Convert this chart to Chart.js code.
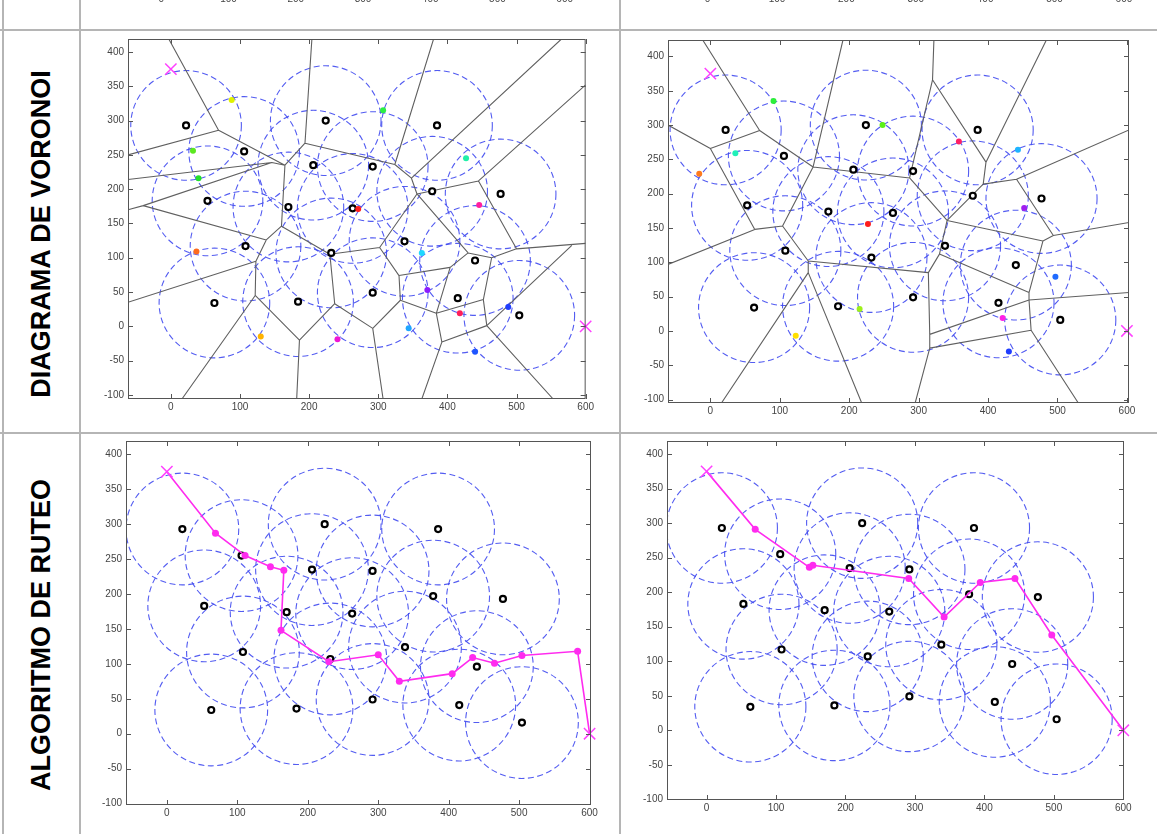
<!DOCTYPE html>
<html>
<head>
<meta charset="utf-8">
<script src="https://cdn.jsdelivr.net/npm/chart.js@4.4.1/dist/chart.umd.min.js"></script>
<style>
html, body { margin: 0; padding: 0; background: #fff; }
#page { position: relative; width: 1157px; height: 834px; overflow: hidden; background: #fff; }
.rule { position: absolute; background: #b5b5b5; }
.rowlabel {
    position: absolute; white-space: nowrap; color: #000;
    font: bold 27px "Liberation Sans", Arial, sans-serif;
    transform: translate(-50%, -50%) rotate(-90deg);
}
</style>
</head>
<body>
<div id="page">
    <div class="rule" style="left:0;top:29px;width:1157px;height:2px"></div>
    <div class="rule" style="left:0;top:432px;width:1157px;height:2px"></div>
    <div class="rule" style="left:2px;top:0;width:2px;height:834px"></div>
    <div class="rule" style="left:79px;top:0;width:2px;height:834px"></div>
    <div class="rule" style="left:619px;top:0;width:2px;height:834px"></div>
    <div class="rowlabel" style="left:41px;top:234px">DIAGRAMA DE VORONOI</div>
    <div class="rowlabel" style="left:41px;top:635px">ALGORITMO DE RUTEO</div>
</div>
<script>
// sensor nodes (black rings) - same in all four plots
const nodeX = [22, 106, 53, 108, 63, 170, 206, 224, 232, 184, 292, 263, 292, 338, 385, 378, 415, 440, 477, 504];
const nodeY = [293, 255, 183, 117, 34, 174, 235, 300, 107, 36, 233, 172, 49, 124, 293, 197, 41, 96, 193, 16];
const coverRadius = 80;

const xTickVals = [0, 100, 200, 300, 400, 500, 600];
const yTickVals = [-100, -50, 0, 50, 100, 150, 200, 250, 300, 350, 400];

const startPt = [0, 375];
const endPt = [600, 0];

// voronoi, left plot
const siteAX = [88, 32, 40, 37, 130, 241, 271, 307, 427, 446, 363, 371, 418, 488, 344, 440];
const siteAY = [330, 256, 216, 109, -15, -19, 171, 315, 245, 177, 107, 53, 19, 28, -3, -37];
const siteAColor = ['#dff200', '#5be81f', '#22e02a', '#ff6b1c', '#ffb300', '#ee16d4', '#ff1c1c', '#2bef44',
    '#1ff0a8', '#ff1fa0', '#1fd8ff', '#8c1cff', '#ff1f5a', '#1f3dff', '#1fa6ff', '#1f55ff'];
const vorAVerts = {
    A: [69, 286], B: [165, 235], C: [146, 239], D: [-40, 176], E: [138, 126], F: [160, 146], G: [194, 267],
    H: [123, 95], I: [122, 45], J: [186, -20], K: [237, 33], L: [230, 105], M: [324, 236], O: [348, 216],
    N: [356, 193], P: [445, 212], Q: [302, 115], R: [330, 74], S: [404, 86], T: [430, 107], U: [464, 100],
    V: [500, 113], W: [452, 39], X1: [457, 1], Y: [384, 19], AA: [332, 38], AB: [292, -3], AC: [392, -23],
    AD: [580, 118]
};
const vorAEdges = [
    [[-3, 419], 'A'], [[-62, 250], 'A'], ['A', 'B'], [[-62, 214], 'C'], ['C', 'D'], ['C', 'B'], [[-62, 170], 'D'],
    ['D', 'E'], ['E', 'F'], ['E', 'H'], ['H', [-62, 35]], ['H', 'I'], ['I', [16, -106]], ['I', 'J'],
    ['J', [182, -106]], ['J', 'K'], ['K', 'L'], ['F', 'L'], ['B', 'F'], ['B', 'G'], ['G', [204, 419]], ['G', 'M'],
    ['M', [380, 419]], ['M', 'O'], ['O', [565, 419]], ['O', 'N'], ['N', 'P'], ['P', [600, 352]], ['P', 'V'],
    ['N', 'Q'], ['N', 'T'], ['L', 'Q'], ['Q', 'R'], ['R', 'S'], ['S', 'T'], ['T', 'U'], ['U', 'V'],
    ['V', [600, 121]], ['U', 'W'], ['W', 'X1'], ['W', 'Y'], ['Y', 'S'], ['Y', 'AA'], ['AA', 'R'], ['AA', 'AB'],
    ['AB', 'K'], ['AB', [307, -106]], ['Y', 'AC'], ['AC', 'X1'], ['AC', [363, -106]], ['X1', [553, -106]],
    ['X1', 'AD']
];

// voronoi, right plot
const siteBX = [91, 36, -16, 248, 227, 358, 443, 452, 123, 215, 497, 421, 430];
const siteBY = [335, 259, 229, 300, 156, 276, 264, 179, -7, 32, 79, 19, -30];
const siteBColor = ['#2bef3a', '#1ff0b8', '#ff7a1c', '#5cf01a', '#ff1c1c', '#ff1f66', '#1fb4ff', '#a01ff0',
    '#ffe000', '#9ef01a', '#1f6bff', '#ff1fe6', '#1f3dff'];
const vorBVerts = {
    a: [71, 292], b: [0, 266], c: [64, 148], d: [104, 153], e: [148, 239], f: [287, 223], g: [320, 366],
    h: [397, 246], i: [393, 214], j: [441, 221], k: [494, 139], l: [341, 161], u1: [330, 112], u2: [314, 85],
    u3: [316, -5], u4: [316, -25], u5: [459, 56], u6: [459, 45], u7: [462, 1], u8: [479, 131],
    v1: [141, 102], v2: [141, 85]
};
const vorBEdges = [
    [[-11, 424], 'a'], ['a', 'b'], ['b', [-61, 300]], ['b', 'c'], ['c', 'd'], ['c', [-61, 97]], ['a', 'e'],
    ['e', 'd'], ['e', [191, 424]], ['e', 'f'], ['f', 'g'], ['g', [322, 424]], ['g', 'h'], ['h', [484, 424]],
    ['h', 'i'], ['i', 'j'], ['j', [603, 293]], ['j', 'k'], ['k', [603, 158]], ['k', 'u8'], ['u8', 'l'],
    ['i', 'l'], ['f', 'l'], ['l', 'u1'], ['u1', 'u5'], ['u8', 'u5'], ['u1', 'u2'], ['u2', 'v1'], ['d', 'v1'],
    ['v1', 'v2'], ['v2', [16, -105]], ['v2', [218, -105]], ['u2', 'u3'], ['u3', 'u6'], ['u5', 'u6'],
    ['u6', [603, 56]], ['u6', 'u7'], ['u3', 'u4'], ['u4', 'u7'], ['u4', [295, -105]], ['u7', [530, -105]]
];

// routes found by the algorithm
const routeCX = [0, 69, 111, 147, 166, 162, 230, 300, 330, 405, 434, 465, 504, 583, 600];
const routeCY = [375, 287, 255, 239, 234, 148, 103, 113, 75, 86, 109, 101, 112, 118, 0];
const routeDX = [0, 70, 148, 153, 291, 342, 394, 444, 497, 600];
const routeDY = [375, 291, 236, 239, 220, 164, 214, 220, 138, 0];

Chart.defaults.font.family = '"Liberation Sans", Arial, sans-serif';
Chart.defaults.font.size = 10;
Chart.defaults.color = '#444';
Chart.defaults.animation = false;

const Y_AXIS_W = 44, X_AXIS_H = 22, PAD_T = 8, PAD_R = 10, TICK = 5;
const MAGENTA = '#ff2bef';

const toPts = (xs, ys) => xs.map((v, i) => ({ x: v, y: ys[i] }));

function sketchPlugin(cfg) {
    return {
        id: 'sketch',
        beforeDatasetsDraw(chart) {
            const { ctx, chartArea: a, scales: { x, y } } = chart;
            ctx.save();
            ctx.beginPath();
            ctx.rect(a.left, a.top, a.right - a.left, a.bottom - a.top);
            ctx.clip();
            if (cfg.circles) {
                ctx.setLineDash([6, 3.5]);
                ctx.strokeStyle = 'rgba(64, 74, 240, 0.9)';
                ctx.lineWidth = 1.1;
                nodeX.forEach((nx, i) => {
                    const cx = x.getPixelForValue(nx), cy = y.getPixelForValue(nodeY[i]);
                    const rx = Math.abs(x.getPixelForValue(nx + coverRadius) - cx);
                    const ry = Math.abs(y.getPixelForValue(nodeY[i] + coverRadius) - cy);
                    ctx.beginPath();
                    ctx.ellipse(cx, cy, rx, ry, 0, 0, Math.PI * 2);
                    ctx.stroke();
                });
            }
            if (cfg.edges) {
                const pt = p => typeof p === 'string' ? cfg.verts[p] : p;
                ctx.setLineDash([]);
                ctx.strokeStyle = '#606060';
                ctx.lineWidth = 1.1;
                ctx.beginPath();
                cfg.edges.forEach(([p, q]) => {
                    const a1 = pt(p), b1 = pt(q);
                    ctx.moveTo(x.getPixelForValue(a1[0]), y.getPixelForValue(a1[1]));
                    ctx.lineTo(x.getPixelForValue(b1[0]), y.getPixelForValue(b1[1]));
                });
                ctx.stroke();
            }
            ctx.restore();
        },
        afterDraw(chart) {
            if (cfg.strip) return;
            const { ctx, chartArea: a, scales: { x, y } } = chart;
            ctx.save();
            ctx.strokeStyle = '#555';
            ctx.lineWidth = 1;
            ctx.strokeRect(a.left + 0.5, a.top + 0.5, a.right - a.left - 1, a.bottom - a.top - 1);
            ctx.beginPath();
            xTickVals.forEach(v => {
                const px = Math.round(x.getPixelForValue(v)) + 0.5;
                ctx.moveTo(px, a.bottom); ctx.lineTo(px, a.bottom - TICK);
                ctx.moveTo(px, a.top); ctx.lineTo(px, a.top + TICK);
            });
            yTickVals.forEach(v => {
                const py = Math.round(y.getPixelForValue(v)) + 0.5;
                ctx.moveTo(a.left, py); ctx.lineTo(a.left + TICK, py);
                ctx.moveTo(a.right, py); ctx.lineTo(a.right - TICK, py);
            });
            ctx.stroke();
            ctx.restore();
        }
    };
}

function makePanel(area, xr, yr, datasets, cfg) {
    const w = (area.r - area.l) + Y_AXIS_W + PAD_R;
    const h = (area.b - area.t) + PAD_T + X_AXIS_H;
    const cv = document.createElement('canvas');
    cv.width = w;
    cv.height = h;
    cv.style.cssText = `position:absolute;left:${area.l - Y_AXIS_W}px;top:${area.t - PAD_T}px;width:${w}px;height:${h}px;`;
    document.getElementById('page').appendChild(cv);
    return new Chart(cv, {
        type: 'scatter',
        data: { datasets },
        options: {
            responsive: false,
            layout: { padding: { top: PAD_T, right: PAD_R, left: 0, bottom: 0 } },
            scales: {
                x: {
                    type: 'linear', min: xr[0], max: xr[1],
                    afterBuildTicks: s => { s.ticks = xTickVals.map(v => ({ value: v })); },
                    afterFit: s => { s.height = X_AXIS_H; },
                    grid: { display: false, drawTicks: false },
                    border: { display: false },
                    ticks: { padding: 2, autoSkip: false, maxRotation: 0 }
                },
                y: {
                    type: 'linear', min: yr[0], max: yr[1],
                    afterBuildTicks: s => { s.ticks = yTickVals.map(v => ({ value: v })); },
                    afterFit: s => { s.width = Y_AXIS_W; },
                    grid: { display: false, drawTicks: false },
                    border: { display: false },
                    ticks: { padding: 4, autoSkip: false, display: !cfg.strip }
                }
            },
            plugins: { legend: { display: false }, tooltip: { enabled: false } }
        },
        plugins: [sketchPlugin(cfg)]
    });
}

function endsSet() {
    return {
        data: toPts([startPt[0], endPt[0]], [startPt[1], endPt[1]]),
        pointStyle: 'crossRot', pointRadius: 8, pointBorderWidth: 1.5,
        pointBorderColor: '#ff40ff', clip: false
    };
}
function nodeSet() {
    return {
        data: toPts(nodeX, nodeY),
        pointRadius: 3, pointBorderWidth: 2.2, pointBorderColor: '#000', pointBackgroundColor: '#fff'
    };
}
function siteSet(xs, ys, colors) {
    return {
        data: toPts(xs, ys),
        pointRadius: 3, pointBorderWidth: 0, pointBackgroundColor: colors
    };
}
function routeSet(xs, ys) {
    return {
        data: toPts(xs, ys), showLine: true,
        borderColor: MAGENTA, borderWidth: 1.6,
        pointRadius: xs.map((_, i) => (i === 0 || i === xs.length - 1) ? 0 : 3.5),
        pointBorderWidth: 0, pointBackgroundColor: MAGENTA, clip: false
    };
}

// cut-off axis labels of the row above
makePanel({ l: 121, t: -60, r: 565, b: -9 }, [-60, 600], [0, 1], [], { strip: true });
makePanel({ l: 666, t: -60, r: 1126, b: -9 }, [-60, 603], [0, 1], [], { strip: true });

// voronoi diagrams
makePanel({ l: 128, t: 37, r: 586, b: 399 }, [-62, 600], [-106, 419],
    [endsSet(), siteSet(siteAX, siteAY, siteAColor), nodeSet()],
    { circles: true, edges: vorAEdges, verts: vorAVerts });
makePanel({ l: 668, t: 38, r: 1129, b: 403 }, [-61, 603], [-105, 424],
    [endsSet(), siteSet(siteBX, siteBY, siteBColor), nodeSet()],
    { circles: true, edges: vorBEdges, verts: vorBVerts });

// routing
makePanel({ l: 126, t: 439, r: 591, b: 805 }, [-58, 602], [-102, 419],
    [endsSet(), routeSet(routeCX, routeCY), nodeSet()], { circles: true });
makePanel({ l: 667, t: 439, r: 1124, b: 800 }, [-57, 601], [-101, 419],
    [endsSet(), routeSet(routeDX, routeDY), nodeSet()], { circles: true });
</script>
</body>
</html>
